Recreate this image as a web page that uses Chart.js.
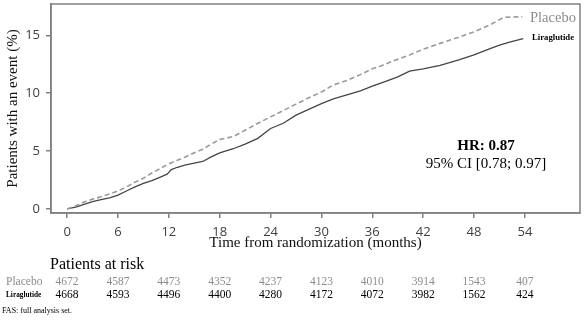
<!DOCTYPE html>
<html><head><meta charset="utf-8">
<script src="https://cdn.jsdelivr.net/npm/chart.js@4"></script>
<style>html,body{margin:0;padding:0;background:#fff}canvas{display:block}</style>
</head><body>
<canvas id="c" width="585" height="324"></canvas>
<script>
// ---- Data ----
const xTicks = [0, 6, 12, 18, 24, 30, 36, 42, 48, 54];
const yTicks = [0, 5, 10, 15];

const placeboMonths = [0, 1, 2, 3, 4, 5, 6, 7, 8, 9, 10, 11, 12, 13, 14, 15, 16, 17, 18, 19.6, 21, 22.5, 24, 25.5, 27, 28.5, 30, 31.4, 33, 34.6, 36, 37, 38.5, 40.4, 42, 44, 46.3, 48, 49.9, 51.5, 53.7];
const placeboValues = [0, 0.25, 0.6, 0.85, 1.05, 1.3, 1.55, 1.9, 2.3, 2.65, 3.1, 3.5, 3.9, 4.2, 4.5, 4.85, 5.15, 5.6, 6.0, 6.25, 6.8, 7.4, 7.95, 8.5, 9.05, 9.6, 10.1, 10.7, 11.1, 11.6, 12.1, 12.35, 12.8, 13.3, 13.8, 14.3, 14.85, 15.3, 15.9, 16.55, 16.6];

const liraMonths = [0, 1, 2, 3, 4, 5, 6, 7, 8, 9, 10, 11, 11.8, 12.3, 13, 14, 15, 16, 17, 18, 19.6, 21, 22.5, 24, 25.5, 27, 28.5, 30, 31.4, 33, 34.6, 36, 37.5, 39, 40.4, 42, 44, 46.3, 48, 49.9, 51, 52.2, 53.8];
const liraValues = [0, 0.15, 0.4, 0.63, 0.8, 0.95, 1.2, 1.55, 1.9, 2.2, 2.45, 2.75, 3.0, 3.4, 3.6, 3.8, 3.95, 4.1, 4.5, 4.85, 5.2, 5.6, 6.1, 6.95, 7.4, 8.1, 8.6, 9.1, 9.5, 9.85, 10.2, 10.6, 11.0, 11.4, 11.9, 12.1, 12.4, 12.9, 13.3, 13.85, 14.15, 14.4, 14.7];

const riskPlacebo = [4672, 4587, 4473, 4352, 4237, 4123, 4010, 3914, 1543, 407];
const riskLira = [4668, 4593, 4496, 4400, 4280, 4172, 4072, 3982, 1562, 424];

const SERIF = '"Liberation Serif", "Times New Roman", serif';
const SANS = '"Open Sans", "DejaVu Sans", sans-serif';

const annot = {
  id: 'annot',
  afterDraw(chart) {
    const ctx = chart.ctx;
    const a = chart.chartArea;
    const xs = chart.scales.x;
    ctx.save();
    // frame
    ctx.strokeStyle = '#808080';
    ctx.lineWidth = 1.5;
    ctx.strokeRect(a.left, a.top, a.right - a.left, a.bottom - a.top);

    // curve labels
    ctx.textBaseline = 'middle';
    ctx.textAlign = 'left';
    ctx.fillStyle = '#8c8c8c';
    ctx.font = '14.5px ' + SERIF;
    ctx.fillText('Placebo', 530, 18);
    ctx.fillStyle = '#000';
    ctx.font = 'bold 8.7px ' + SERIF;
    ctx.fillText('Liraglutide', 532, 38);

    // HR annotation
    ctx.textAlign = 'center';
    ctx.fillStyle = '#000';
    ctx.font = 'bold 15px ' + SERIF;
    ctx.fillText('HR: 0.87', 486, 146);
    ctx.font = '15px ' + SERIF;
    ctx.fillText('95% CI [0.78; 0.97]', 486, 164);

    // risk table
    ctx.textAlign = 'left';
    ctx.font = '16px ' + SERIF;
    ctx.fillText('Patients at risk', 50, 265);
    ctx.fillStyle = '#8c8c8c';
    ctx.font = '11.5px ' + SERIF;
    ctx.fillText('Placebo', 6, 282);
    ctx.fillStyle = '#000';
    ctx.font = 'bold 7.3px ' + SERIF;
    ctx.fillText('Liraglutide', 6, 295);
    ctx.textAlign = 'center';
    ctx.font = '11.5px ' + SERIF;
    xTicks.forEach((t, i) => {
      const px = xs.getPixelForValue(t);
      ctx.fillStyle = '#8c8c8c';
      ctx.fillText(String(riskPlacebo[i]), px, 282);
      ctx.fillStyle = '#000';
      ctx.fillText(String(riskLira[i]), px, 295);
    });

    // footnote
    ctx.textAlign = 'left';
    ctx.fillStyle = '#000';
    ctx.font = '8px ' + SERIF;
    ctx.fillText('FAS: full analysis set.', 2, 311);
    ctx.restore();
  }
};

function noPad(s) { s.paddingTop = 0; s.paddingBottom = 0; s.paddingLeft = 0; s.paddingRight = 0; }

new Chart(document.getElementById('c').getContext('2d'), {
  type: 'line',
  data: {
    datasets: [
      {
        label: 'Placebo',
        data: placeboMonths.map((m, i) => ({ x: m, y: placeboValues[i] })),
        borderColor: '#9a9a9a', borderDash: [5, 3], borderWidth: 1.6,
        pointRadius: 0, tension: 0, fill: false
      },
      {
        label: 'Liraglutide',
        data: liraMonths.map((m, i) => ({ x: m, y: liraValues[i] })),
        borderColor: '#454545', borderWidth: 1.3,
        pointRadius: 0, tension: 0, fill: false
      }
    ]
  },
  options: {
    responsive: false, animation: false, devicePixelRatio: 1,
    layout: { padding: { left: 0, right: 5, top: 4, bottom: 68 } },
    plugins: { legend: { display: false }, tooltip: { enabled: false } },
    scales: {
      x: {
        type: 'linear', min: -1.9, max: 60.5,
        afterBuildTicks: s => { s.ticks = xTicks.map(v => ({ value: v })); },
        afterFit: s => { s.height = 43; noPad(s); },
        grid: { drawOnChartArea: false, drawTicks: true, tickLength: 5, color: '#808080', lineWidth: 1.5 },
        border: { color: '#808080', width: 1.5 },
        ticks: { font: { family: SANS, size: 13 }, color: '#404040', padding: 6, maxRotation: 0, autoSkip: false },
        title: { display: true, text: 'Time from randomization (months)', font: { family: SERIF, size: 15 }, color: '#111', padding: { top: 4, bottom: 4 } }
      },
      y: {
        type: 'linear', min: -0.35, max: 17.7,
        afterBuildTicks: s => { s.ticks = yTicks.map(v => ({ value: v })); },
        afterFit: s => { s.width = 51; noPad(s); },
        grid: { drawOnChartArea: false, drawTicks: true, tickLength: 5, color: '#808080', lineWidth: 1.5 },
        border: { color: '#808080', width: 1.5 },
        ticks: { font: { family: SANS, size: 13 }, color: '#404040', padding: 6 },
        title: { display: true, text: 'Patients with an event (%)', font: { family: SERIF, size: 15 }, color: '#111', padding: { top: 4, bottom: 4 } }
      }
    }
  },
  plugins: [annot]
});
</script>
</body></html>
